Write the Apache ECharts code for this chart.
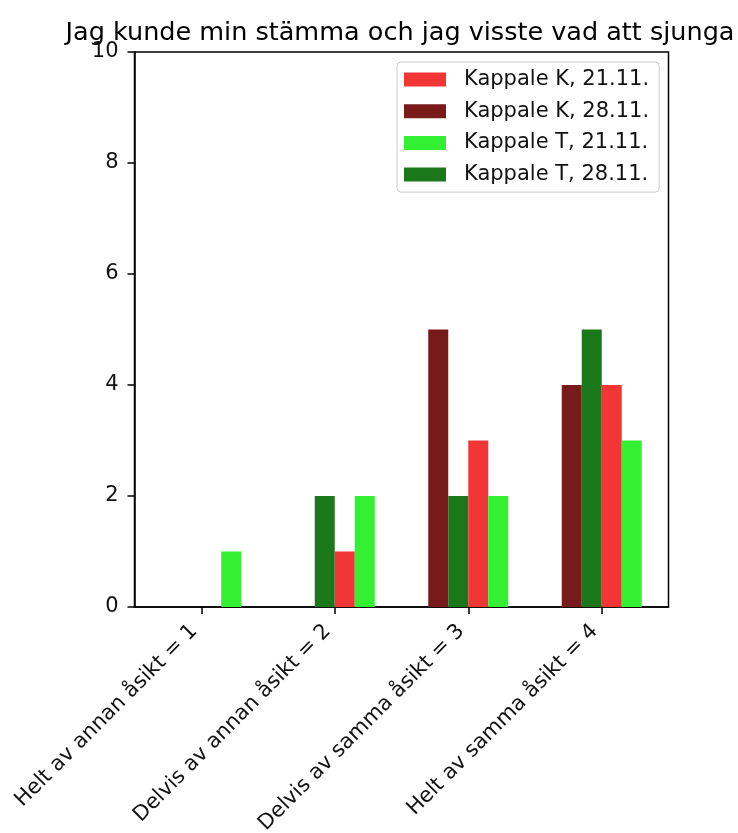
<!DOCTYPE html>
<html>
<head>
<meta charset="utf-8">
<script src="https://cdn.jsdelivr.net/npm/echarts@6/dist/echarts.min.js"></script>
<style>html,body{margin:0;padding:0;background:#fff;}#c{width:738px;height:833px;}</style>
</head>
<body>
<div id="c"></div>
<script>
const titleText = 'Jag kunde min stämma och jag visste vad att sjunga';
const categories = ['Helt av annan åsikt = 1', 'Delvis av annan åsikt = 2', 'Delvis av samma åsikt = 3', 'Helt av samma åsikt = 4'];
const yTicks = [0, 2, 4, 6, 8, 10];
const nameK21 = 'Kappale K, 21.11.';
const nameK28 = 'Kappale K, 28.11.';
const nameT21 = 'Kappale T, 21.11.';
const nameT28 = 'Kappale T, 28.11.';
const valuesK21 = [0, 1, 3, 4];
const valuesK28 = [0, 0, 5, 4];
const valuesT21 = [1, 2, 2, 3];
const valuesT28 = [0, 2, 2, 5];
const colorK21 = '#f23535';
const colorK28 = '#781a1a';
const colorT21 = '#33f033';
const colorT28 = '#1a781a';

const FONT = 'DejaVu Sans';
const TXT = '#111';
const chart = echarts.init(document.getElementById('c'), null, {renderer: 'canvas'});

function bar(name, values, color) {
  return {
    name: name, type: 'bar', data: values, barWidth: 20, barGap: '0%',
    itemStyle: {color: color}, emphasis: {disabled: true}
  };
}

chart.setOption({
  animation: false,
  backgroundColor: '#fff',
  title: {
    text: titleText, left: 395, top: 15, textAlign: 'center',
    textStyle: {fontFamily: FONT, fontSize: 25.5, fontWeight: 'normal', color: '#000'}
  },
  grid: {left: 134.5, right: 69.5, top: 52, bottom: 226, outerBoundsMode: 'none', containLabel: false,
    show: true, borderColor: '#000', borderWidth: 1.5, backgroundColor: 'transparent'},
  legend: {
    orient: 'vertical', left: 397, top: 62, padding: [7, 10, 7, 7],
    data: [nameK21, nameK28, nameT21, nameT28],
    itemWidth: 42, itemHeight: 14, itemGap: 10.7, icon: 'rect',
    borderColor: '#cccccc', borderWidth: 1, borderRadius: 4, backgroundColor: 'rgba(255,255,255,0.8)',
    textStyle: {fontFamily: FONT, fontSize: 21, color: TXT, padding: [0, 0, 0, 13]}
  },
  xAxis: {
    type: 'category', data: categories, boundaryGap: true,
    axisLine: {show: true, lineStyle: {color: '#000', width: 1.5}},
    axisTick: {show: true, alignWithLabel: true, length: 7, lineStyle: {color: '#000', width: 1.5}},
    axisLabel: {interval: 0, rotate: 45, margin: 14, padding: [0, 10, 0, 0], fontFamily: FONT, fontSize: 21, color: TXT},
    splitLine: {show: false}
  },
  yAxis: {
    type: 'value', min: yTicks[0], max: yTicks[yTicks.length - 1], interval: yTicks[1] - yTicks[0],
    axisLine: {show: true, lineStyle: {color: '#000', width: 1.5}},
    axisTick: {show: true, length: 7, lineStyle: {color: '#000', width: 1.5}},
    axisLabel: {margin: 16, fontFamily: FONT, fontSize: 21, color: TXT},
    splitLine: {show: false}
  },
  series: [
    bar(nameK28, valuesK28, colorK28),
    bar(nameT28, valuesT28, colorT28),
    bar(nameK21, valuesK21, colorK21),
    bar(nameT21, valuesT21, colorT21)
  ]
});
</script>
</body>
</html>
